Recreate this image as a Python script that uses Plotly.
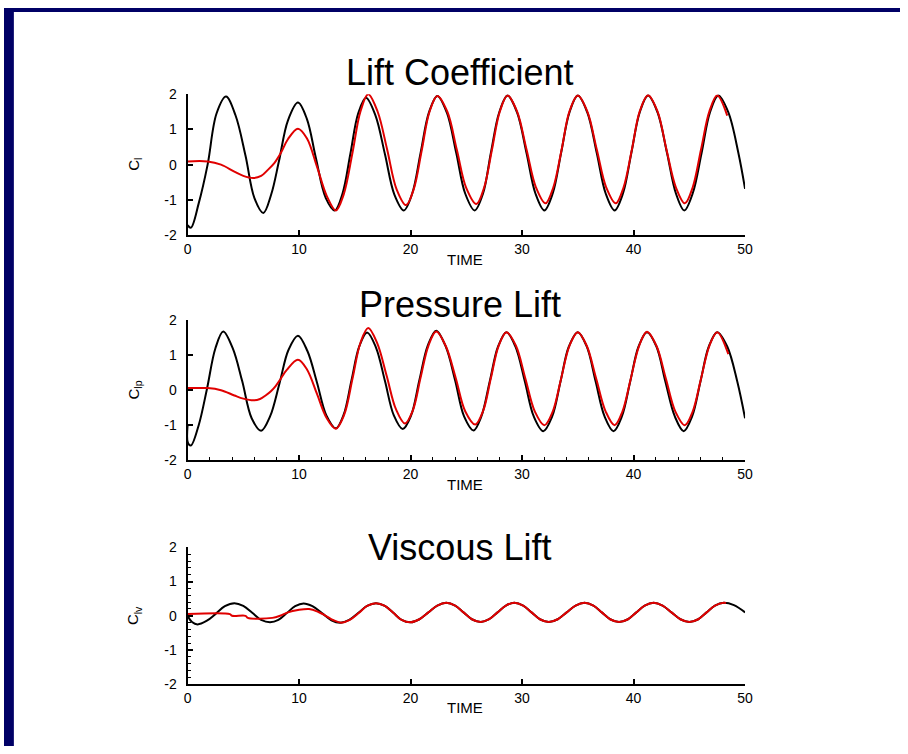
import plotly.graph_objects as go

# ---------------- data ----------------
# Panel 1: Lift Coefficient (black = total, red = second run)
cl_black_t = [0, 0.3, 1.0, 1.8, 2.6, 3.45, 4.3, 5.2, 6.0, 6.8, 7.5, 8.2, 9.0, 9.9, 10.7, 11.5, 12.4, 13.2,
              13.9, 14.6, 15.3, 16.0, 16.85, 17.7, 18.55, 19.4, 20.15, 20.9, 21.65, 22.4, 23.25, 24.1,
              24.9, 25.75, 26.5, 27.2, 27.95, 28.7, 29.55, 30.4, 31.2, 32.0, 32.75, 33.5, 34.25, 35.0,
              35.85, 36.7, 37.5, 38.3, 39.05, 39.8, 40.55, 41.3, 42.15, 43.0, 43.8, 44.55, 45.3, 46.1,
              46.85, 47.6, 48.5, 49.4, 50]
cl_black_v = [-1.72, -1.79, -1.1, 0.0, 1.45, 1.93, 1.4, 0.25, -0.95, -1.37, -0.85, 0.1, 1.25, 1.76, 1.3,
              0.2, -0.95, -1.3, -0.82, 0.3, 1.45, 1.9, 1.4, 0.3, -0.85, -1.3, -0.82, 0.33, 1.48, 1.95,
              1.48, 0.33, -0.82, -1.3, -0.82, 0.33, 1.48, 1.96, 1.48, 0.33, -0.82, -1.3, -0.82, 0.33,
              1.48, 1.96, 1.48, 0.33, -0.82, -1.3, -0.82, 0.33, 1.48, 1.96, 1.48, 0.33, -0.82, -1.3,
              -0.82, 0.33, 1.48, 1.96, 1.48, 0.33, -0.69]
cl_red_t = [0, 1.8, 3.0, 4.2, 5.0, 5.9, 6.6, 7.2, 7.8, 8.4, 9.0, 9.9, 10.7, 11.6, 12.5, 13.3, 14.0, 14.8,
            15.5, 16.2, 17.05, 17.9, 18.75, 19.6, 20.3, 21.0, 21.7, 22.4, 23.3, 24.15, 25.0, 25.9, 26.6,
            27.3, 28.0, 28.7, 29.55, 30.4, 31.25, 32.1, 32.8, 33.55, 34.25, 35.0, 35.85, 36.7, 37.55,
            38.4, 39.1, 39.85, 40.55, 41.3, 42.15, 42.95, 43.8, 44.6, 45.3, 46.05, 46.8, 47.5, 48.4]
cl_red_v = [0.09, 0.09, 0.0, -0.2, -0.32, -0.38, -0.32, -0.15, 0.05, 0.35, 0.72, 1.02, 0.75, -0.05, -0.9,
            -1.3, -0.85, 0.35, 1.5, 2.0, 1.5, 0.43, -0.7, -1.15, -0.68, 0.4, 1.5, 1.95, 1.5, 0.42, -0.67,
            -1.12, -0.65, 0.42, 1.5, 1.96, 1.51, 0.43, -0.65, -1.1, -0.65, 0.43, 1.51, 1.96, 1.51, 0.43,
            -0.65, -1.1, -0.65, 0.43, 1.51, 1.97, 1.51, 0.43, -0.65, -1.1, -0.65, 0.43, 1.51, 1.96, 1.39]

# Panel 2: Pressure Lift
clp_black_t = [0, 0.03, 0.3, 1.0, 1.75, 2.5, 3.2, 4.05, 4.9, 5.75, 6.6, 7.4, 8.25, 9.05, 9.9, 10.75, 11.6,
               12.45, 13.3, 14.0, 14.7, 15.4, 16.1, 16.9, 17.7, 18.5, 19.3, 20.05, 20.8, 21.55, 22.3,
               23.15, 24.0, 24.8, 25.65, 26.35, 27.1, 27.85, 28.6, 29.4, 30.25, 31.05, 31.9, 32.7, 33.45,
               34.2, 35.0, 35.8, 36.6, 37.4, 38.2, 38.95, 39.7, 40.45, 41.2, 42.05, 42.85, 43.7, 44.5,
               45.25, 46.0, 46.75, 47.5, 48.4, 49.3, 50]
clp_black_v = [-1.02, -1.5, -1.58, -1.0, 0.05, 1.2, 1.68, 1.2, 0.26, -0.8, -1.16, -0.75, 0.2, 1.15, 1.56,
               1.12, 0.23, -0.72, -1.09, -0.7, 0.28, 1.25, 1.65, 1.22, 0.27, -0.72, -1.11, -0.72, 0.3,
               1.28, 1.7, 1.25, 0.28, -0.75, -1.15, -0.75, 0.25, 1.25, 1.66, 1.25, 0.25, -0.75, -1.17,
               -0.75, 0.25, 1.25, 1.66, 1.25, 0.25, -0.75, -1.17, -0.75, 0.25, 1.25, 1.66, 1.25, 0.25,
               -0.75, -1.17, -0.75, 0.25, 1.25, 1.66, 1.25, 0.25, -0.8]
clp_red_t = [0, 1.8, 3.0, 4.2, 5.0, 5.9, 6.5, 7.0, 7.5, 7.9, 8.4, 8.9, 9.9, 10.7, 11.6, 12.45, 13.3, 14.05,
             14.8, 15.5, 16.2, 17.0, 17.85, 18.7, 19.5, 20.2, 20.9, 21.6, 22.3, 23.15, 24.05, 24.9, 25.8,
             26.5, 27.2, 27.9, 28.6, 29.45, 30.3, 31.15, 32.0, 32.75, 33.5, 34.25, 35.0, 35.8, 36.65,
             37.5, 38.3, 39.0, 39.75, 40.5, 41.2, 42.05, 42.9, 43.75, 44.6, 45.3, 46.05, 46.8, 47.5, 48.5]
clp_red_v = [0.06, 0.06, 0.0, -0.15, -0.24, -0.29, -0.25, -0.15, -0.02, 0.12, 0.35, 0.58, 0.87, 0.6, -0.1,
             -0.78, -1.1, -0.7, 0.34, 1.35, 1.78, 1.35, 0.42, -0.55, -0.95, -0.58, 0.36, 1.27, 1.68, 1.27,
             0.35, -0.6, -0.98, -0.6, 0.34, 1.27, 1.66, 1.27, 0.33, -0.61, -1.0, -0.61, 0.33, 1.27, 1.66,
             1.27, 0.33, -0.61, -1.0, -0.61, 0.33, 1.27, 1.67, 1.27, 0.33, -0.61, -1.0, -0.61, 0.33,
             1.27, 1.66, 1.03]

# Panel 3: Viscous Lift
clv_black_t = [0, 0.4, 0.9, 1.7, 2.5, 3.35, 4.2, 5.0, 5.8, 6.6, 7.4, 8.15, 8.9, 9.65, 10.4, 11.2, 12.05,
               12.9, 13.7, 14.5, 15.3, 16.1, 16.9, 17.7, 18.45, 19.2, 20.0, 20.8, 21.6, 22.4, 23.2, 24.0,
               24.75, 25.5, 26.3, 27.05, 27.8, 28.55, 29.3, 30.1, 30.85, 31.6, 32.4, 33.2, 34.0, 34.8,
               35.6, 36.4, 37.15, 37.9, 38.7, 39.5, 40.25, 41.0, 41.8, 42.6, 43.4, 44.2, 45.0, 45.8,
               46.55, 47.3, 48.1, 49.0, 50]
clv_black_v = [0.0, -0.18, -0.25, -0.15, 0.05, 0.28, 0.37, 0.29, 0.09, -0.12, -0.19, -0.12, 0.08, 0.28,
               0.36, 0.28, 0.08, -0.13, -0.2, -0.12, 0.08, 0.29, 0.37, 0.29, 0.09, -0.12, -0.19, -0.1,
               0.1, 0.3, 0.38, 0.3, 0.1, -0.1, -0.18, -0.1, 0.1, 0.3, 0.38, 0.3, 0.1, -0.1, -0.18, -0.1,
               0.1, 0.3, 0.38, 0.3, 0.1, -0.1, -0.18, -0.1, 0.1, 0.3, 0.38, 0.3, 0.1, -0.1, -0.18, -0.1,
               0.1, 0.3, 0.38, 0.31, 0.1]
clv_red_t = [0, 3.8, 4.0, 5.2, 5.4, 7.6, 8.3, 9.0, 9.9, 10.9, 11.7, 12.4, 13.1, 13.8, 14.55, 15.35, 16.1,
             16.9, 17.7, 18.45, 19.2, 20.0, 20.8, 21.6, 22.4, 23.2, 24.0, 24.75, 25.5, 26.3, 27.05, 27.8,
             28.55, 29.3, 30.1, 30.85, 31.6, 32.4, 33.2, 34.0, 34.8, 35.6, 36.4, 37.15, 37.9, 38.7, 39.5,
             40.25, 41.0, 41.8, 42.6, 43.4, 44.2, 45.0, 45.8, 46.55, 47.3, 48.1, 48.3]
clv_red_v = [0.05, 0.05, 0.0, 0.0, -0.06, -0.06, 0.0, 0.1, 0.17, 0.2, 0.12, 0.0, -0.13, -0.2, -0.12, 0.08,
             0.29, 0.37, 0.29, 0.09, -0.12, -0.19, -0.1, 0.1, 0.3, 0.38, 0.3, 0.1, -0.1, -0.18, -0.1, 0.1,
             0.3, 0.38, 0.3, 0.1, -0.1, -0.18, -0.1, 0.1, 0.3, 0.38, 0.3, 0.1, -0.1, -0.18, -0.1, 0.1,
             0.3, 0.38, 0.3, 0.1, -0.1, -0.18, -0.1, 0.1, 0.3, 0.38, 0.37]

titles = ["Lift Coefficient", "Pressure Lift", "Viscous Lift"]
ylabels = ["C<sub>l</sub>", "C<sub>lp</sub>", "C<sub>lv</sub>"]
xlabel = "TIME"
x_ticks = [0, 10, 20, 30, 40, 50]
y_ticks = [-2, -1, 0, 1, 2]
y_ticktext = ["-2", "-1", "0", "1", "2"]

# ---------------- figure ----------------
W, H = 908, 754
FONT = "Liberation Sans, Arial, Helvetica, sans-serif"
BLACK = "#000000"
RED = "#e00000"
NAVY = "#000066"

series = [
    (cl_black_t, cl_black_v, cl_red_t, cl_red_v),
    (clp_black_t, clp_black_v, clp_red_t, clp_red_v),
    (clv_black_t, clv_black_v, clv_red_t, clv_red_v),
]

# pixel geometry of each panel: (left, right, top, bottom)
panels = [(186, 751, 88, 232), (186, 751, 319, 462), (186, 751, 551, 691)]
title_y = [66, 303, 551]
time_y = [257, 487, 715]

fig = go.Figure()
layout = dict(
    width=W, height=H, margin=dict(l=0, r=0, t=0, b=0),
    paper_bgcolor="white", plot_bgcolor="white", showlegend=False,
    font=dict(family=FONT, color=BLACK),
)
annotations = []
for i, (bt, bv, rt, rv) in enumerate(series):
    n = "" if i == 0 else str(i + 1)
    xa, ya = "x" + n, "y" + n
    fig.add_trace(go.Scatter(x=bt, y=bv, mode="lines", line=dict(color=BLACK, width=2, shape="spline", smoothing=1.0),
                             xaxis=xa, yaxis=ya, hoverinfo="skip"))
    fig.add_trace(go.Scatter(x=rt, y=rv, mode="lines", line=dict(color=RED, width=2, shape="spline", smoothing=1.0),
                             xaxis=xa, yaxis=ya, hoverinfo="skip"))
    l, r, t, b = panels[i]
    xdict = dict(domain=[l / W, r / W], range=[0, 50], anchor=ya, showline=True, linecolor=BLACK, linewidth=2,
                 ticks="inside", ticklen=5, tickwidth=1.5, tickcolor=BLACK, tickvals=x_ticks,
                 showgrid=False, zeroline=False, tickfont=dict(size=14, family=FONT, color=BLACK))
    ydict = dict(domain=[1 - b / H, 1 - t / H], range=[-2, 2], anchor=xa, showline=True, linecolor=BLACK,
                 linewidth=2, ticks="inside", ticklen=5, tickwidth=1.5, tickcolor=BLACK, tickvals=y_ticks,
                 ticktext=y_ticktext, showgrid=False, zeroline=False, ticklabelstandoff=6,
                 tickfont=dict(size=14, family=FONT, color=BLACK))
    if i == 1:
        xdict["minor"] = dict(ticks="inside", dtick=2, ticklen=3, tickwidth=1, tickcolor=BLACK)
    if i == 2:
        ydict["minor"] = dict(ticks="inside", dtick=0.2, ticklen=3, tickwidth=1, tickcolor=BLACK)
    layout["xaxis" + n] = xdict
    layout["yaxis" + n] = ydict

    annotations.append(dict(text=titles[i], x=462 / W, y=1 - title_y[i] / H, xref="paper", yref="paper",
                            xanchor="center", yanchor="middle", showarrow=False,
                            font=dict(size=36, family=FONT, color=BLACK)))
    annotations.append(dict(text=xlabel, x=467 / W, y=1 - time_y[i] / H, xref="paper", yref="paper",
                            xanchor="center", yanchor="middle", showarrow=False,
                            font=dict(size=15, family=FONT, color=BLACK)))
    annotations.append(dict(text=ylabels[i], x=132 / W, y=1 - ((t + b) / 2) / H, xref="paper", yref="paper",
                            xanchor="center", yanchor="middle", showarrow=False, textangle=-90,
                            font=dict(size=15, family=FONT, color=BLACK)))

layout["annotations"] = annotations
layout["shapes"] = [
    dict(type="rect", xref="paper", yref="paper", x0=0, x1=1, y0=1 - 4 / H, y1=1,
         fillcolor=NAVY, line=dict(width=0), layer="above"),
    dict(type="rect", xref="paper", yref="paper", x0=0, x1=10 / W, y0=0, y1=1,
         fillcolor=NAVY, line=dict(width=0), layer="above"),
]
fig.update_layout(**layout)
fig.write_html("out.html",
               post_script="document.body.style.margin='0';document.body.style.overflow='hidden';")
